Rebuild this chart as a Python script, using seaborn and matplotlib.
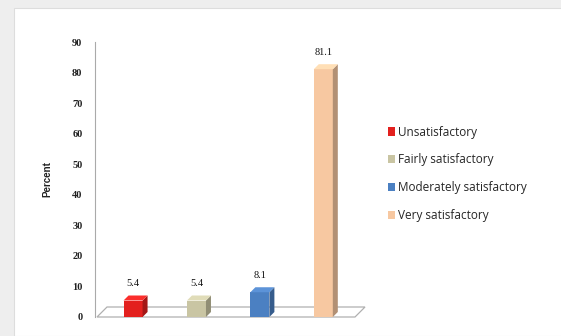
import matplotlib
matplotlib.use('Agg')
import matplotlib.pyplot as plt
import matplotlib.patches as mpatches
import matplotlib.colors as mcolors
import seaborn as sns
import pandas as pd

categories = ['Unsatisfactory', 'Fairly satisfactory', 'Moderately satisfactory', 'Very satisfactory']
percent = [5.4, 5.4, 8.1, 81.1]
bar_colors = ['#e3201e', '#c9c5a3', '#4b80c2', '#f7c8a1']
yticks = [0, 10, 20, 30, 40, 50, 60, 70, 80, 90]

df = pd.DataFrame({'category': categories, 'percent': percent})

sns.set_style('white')
plt.rcParams['font.family'] = ['Liberation Sans', 'DejaVu Sans']

fig = plt.figure(figsize=(5.61, 3.36), dpi=100, facecolor='#eeeeee')
# white panel inside light gray border
fig.patches.append(mpatches.Rectangle((14 / 561, 0), 1, 1 - 8 / 336, transform=fig.transFigure,
                                      facecolor='white', edgecolor='#dddddd', lw=0.8, zorder=-10))

ax = fig.add_axes([95 / 561, 19 / 336, 260 / 561, 275 / 336])
ax.set_facecolor('none')

sns.barplot(data=df, x='category', y='percent', hue='category', palette=bar_colors,
            width=0.3, ax=ax, legend=False, saturation=1,
            edgecolor='none', linewidth=0, zorder=3)

ax.set_ylim(0, 90)
ax.set_xlim(-0.6, 3.5)

# fake 3d look: floor plane plus top/side faces of each bar (pixel offsets)
depth = 10
ddx = 5
to_px = ax.transData.transform
f0 = to_px((-0.6, 0))
f1 = to_px((3.5, 0))
floor = mpatches.Polygon([(f0[0] + 2, f0[1]), (f1[0], f1[1]), (f1[0] + depth, f1[1] + depth),
                          (f0[0] + 2 + depth, f0[1] + depth)], closed=True, transform=None,
                         facecolor='white', edgecolor='#b0b0b0', lw=0.9, zorder=1, clip_on=False)
ax.add_artist(floor)

for bar, col in zip(ax.patches, bar_colors):
    x0, x1 = bar.get_x(), bar.get_x() + bar.get_width()
    h = bar.get_height()
    (px0, py0), (px1, py1) = to_px((x0, 0)), to_px((x1, h))
    dark = [c * 0.72 for c in mcolors.to_rgb(col)]
    light = [min(1, c * 1.05 + 0.05) for c in mcolors.to_rgb(col)]
    side = mpatches.Polygon([(px1, py0), (px1 + ddx, py0 + ddx), (px1 + ddx, py1 + ddx), (px1, py1)],
                            closed=True, transform=None, facecolor=dark, edgecolor='none', zorder=4)
    top = mpatches.Polygon([(px0, py1), (px1, py1), (px1 + ddx, py1 + ddx), (px0 + ddx, py1 + ddx)],
                           closed=True, transform=None, facecolor=light, edgecolor='none', zorder=4)
    ax.add_artist(side)
    ax.add_artist(top)

for c in ax.containers:
    ax.bar_label(c, fmt='%.1f', padding=9, fontsize=7.5, family='Liberation Serif', color='#111111')

ax.set_yticks(yticks)
ax.set_yticklabels([str(t) for t in yticks], family='Liberation Serif', fontsize=7.5,
                   fontweight='bold', color='#222222')
ax.set_xticks([])
ax.set_xlabel('')
ax.set_ylabel('Percent', fontsize=7, fontweight='bold', labelpad=14, color='#222222')
ax.tick_params(axis='y', length=3, width=0.6, color='#aaaaaa', pad=6)

for s in ['top', 'right', 'bottom']:
    ax.spines[s].set_visible(False)
ax.spines['left'].set_color('#aaaaaa')
ax.spines['left'].set_linewidth(0.8)

handles = [mpatches.Patch(facecolor=col, edgecolor='none') for col in bar_colors]
fig.legend(handles, categories, loc='upper left', bbox_to_anchor=(383 / 561, 1 - 121 / 336),
           frameon=False, prop={'family': 'Open Sans', 'size': 8.5}, handlelength=0.6,
           handleheight=0.7, handletextpad=0.3, labelspacing=1.25, borderaxespad=0)

plt.savefig('out.png', dpi=100, facecolor=fig.get_facecolor())
